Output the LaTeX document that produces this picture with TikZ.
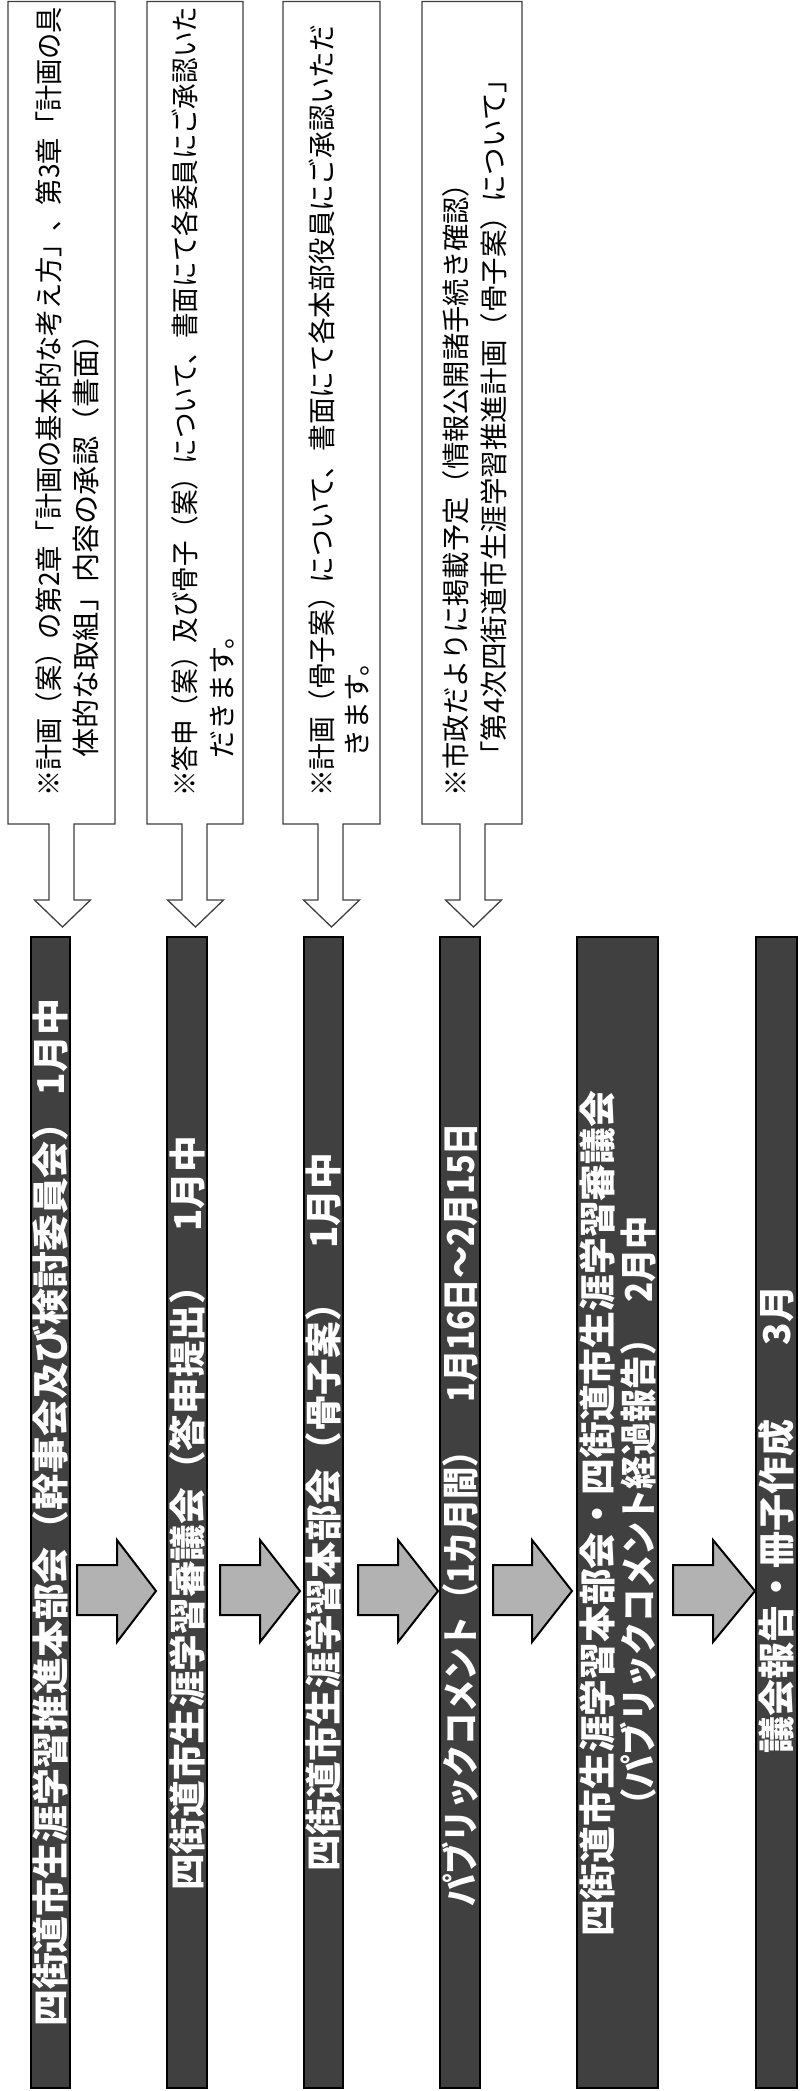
\documentclass[tikz,border=0pt]{standalone}
\usepackage{fontspec}
\usepackage{graphicx}
\newfontfamily\jp{Noto Sans CJK JP}
\usetikzlibrary{calc}
\newcommand{\fitlen}[2]{\resizebox{#1pt}{\height}{#2}}
\tikzstyle{bar}=[draw=black, fill=black!75, line width=1.5pt, inner sep=0pt]
\tikzstyle{bartext}=[rotate=90, anchor=west, inner sep=0pt, text=white, font=\jp\bfseries\fontsize{37}{40}\selectfont]
\tikzstyle{notetext}=[rotate=90, anchor=west, inner sep=0pt, font=\jp\fontsize{28}{31}\selectfont]
\tikzstyle{callout}=[draw=black!75, line width=1.3pt, fill=white]
\tikzstyle{blockarrow}=[draw=black, line width=2pt, fill=black!30, line join=miter]

\begin{document}
\begin{tikzpicture}[x=1pt, y=-1pt]
    \useasboundingbox (0,0) rectangle (803,2091);
    \clip (0,0) rectangle (803,2091);
        \foreach \l/\r/\a in {8/115/61.5, 147/243/194.5, 283/380/330.5, 422/522/472.5} {
             \draw[callout] (\l,1.5) -- (\l,824) -- (\a-12.5,824) -- (\a-12.5,900) -- (\a-27,900) -- (\a+1,927)
                 -- (\a+29,900) -- (\a+12.5,900) -- (\a+12.5,824) -- (\r,824) -- (\r,1.5) -- cycle;
        }
        \foreach \n/\x/\w in {1/50.5/39, 2/187/40, 3/323.5/39, 4/460/40, 5/617.5/81, 6/776.5/41} {
             \node[bar, minimum width=\w pt, minimum height=1151pt] (b\n) at (\x,1512.5) {};
        }
        \foreach \s/\h/\t in {77/117/156, 220/260/300, 358/398/438, 493/532/572, 673/713/755} {
             \draw[blockarrow] (\s,1565) -- (\h,1565) -- (\h,1540) -- (\t,1591) -- (\h,1642) -- (\h,1615) -- (\s,1615) -- cycle;
        }
        \node[notetext] (n1a) at (48.5,797) {\fitlen{790}{※計画（案）の第2章「計画の基本的な考え方」、第3章「計画の具}};
        \node[notetext] (n1b) at (86,758) {\fitlen{438}{体的な取組」内容の承認（書面）}};
        \node[notetext] (n2a) at (185,797) {\fitlen{790}{※答申（案）及び骨子（案）について、書面にて各委員にご承認いた}};
        \node[notetext] (n2b) at (222,759) {だきます。};
        \node[notetext] (n3a) at (322,797) {\fitlen{772}{※計画（骨子案）について、書面にて各本部役員にご承認いただ}};
        \node[notetext] (n3b) at (357,758) {きます。};
        \node[notetext] (n4a) at (456,797) {\fitlen{627}{※市政だよりに掲載予定（情報公開諸手続き確認）}};
        \node[notetext] (n4b) at (494,769) {\fitlen{703}{「第4次四街道市生涯学習推進計画（骨子案）について」}};
        \node[bartext] (t1) at (50.5,2027) {\fitlen{1028}{四街道市生涯学習推進本部会（幹事会及び検討委員会）\hspace{0.25em}1月中}};
        \node[bartext] (t2) at (187,1891) {\fitlen{755}{四街道市生涯学習審議会（答申提出）　1月中}};
        \node[bartext] (t3) at (323.5,1872) {\fitlen{719}{四街道市生涯学習本部会（骨子案）　1月中}};
        \node[bartext] (t4) at (460,1907) {\fitlen{784}{パブリックコメント（1カ月間）　1月16日～2月15日}};
        \node[bartext] (t5a) at (597,1937) {\fitlen{846}{四街道市生涯学習本部会・四街道市生涯学習審議会}};
        \node[bartext] (t5b) at (638,1822) {\fitlen{606}{（パブリックコメント経過報告）\hspace{0.6em}2月中}};
        \node[bartext] (t6) at (776.5,1754) {\fitlen{468}{議会報告・冊子作成　　3月}};
    \end{tikzpicture}
\end{document}
